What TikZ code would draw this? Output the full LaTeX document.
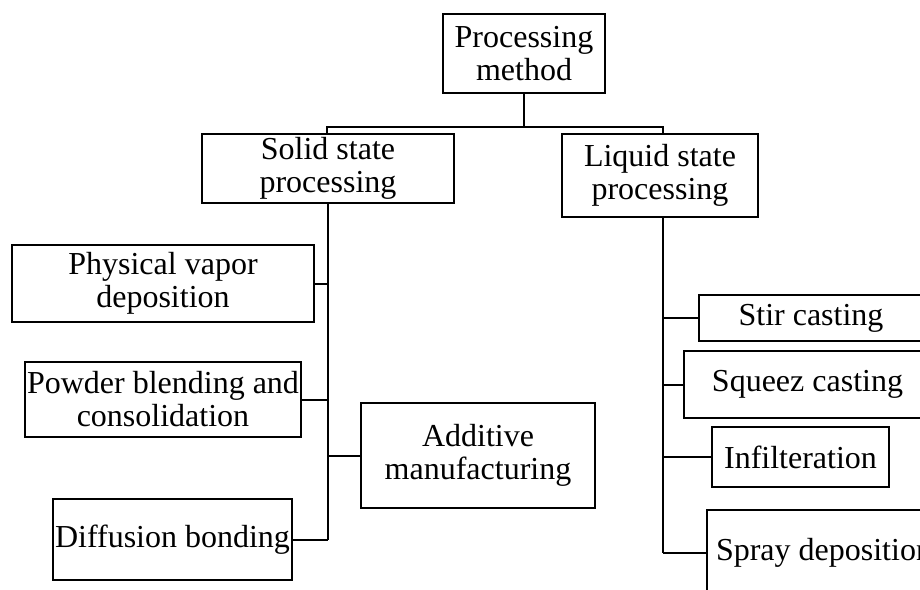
\documentclass[tikz,border=0pt]{standalone}
\usepackage{fontspec}
\setmainfont{Liberation Serif}
\usetikzlibrary{positioning}

\begin{document}
\begin{tikzpicture}[x=1pt,y=-1pt,
    box/.style={draw,line width=2pt,inner sep=0pt,align=center,
      font=\fontsize{32}{33}\selectfont},
    link/.style={line width=2pt},
    trunk/.style={line width=2.8pt}]
  \useasboundingbox (0,0) rectangle (920,589);
  \node[box,minimum width=162pt,minimum height=79pt] (method) at (524,53.5) {Processing\\method};
  \node[box,minimum width=252pt,minimum height=69pt] (solid) at (328,168.5) {Solid state\\processing};
  \node[box,minimum width=196pt,minimum height=83pt] (liquid) at (660,175.5) {Liquid state\\processing};
  \node[box,minimum width=302pt,minimum height=77pt] (pvd) at (163,283.5) {Physical vapor\\deposition};
  \node[box,minimum width=276pt,minimum height=75pt] (powder) at (163,399.5) {Powder blending and\\consolidation};
  \node[box,minimum width=234pt,minimum height=105pt] (additive) at (478,455.5) {Additive\\manufacturing};
  \node[box,minimum width=239pt,minimum height=81pt] (diffusion) at (172.5,539.5) {Diffusion bonding};
  \node[box,minimum width=224pt,minimum height=46pt] (stir) at (811,318) {Stir casting};
  \node[box,minimum width=247pt,minimum height=67pt] (squeez) at (807.5,384.5) {Squeez casting};
  \node[box,minimum width=177pt,minimum height=60pt] (infil) at (800.5,457) {Infilteration};
  \node[box,minimum width=234pt,minimum height=86pt] (spray) at (824,553) {Spray deposition};

  \coordinate (split) at (524,127);
  \draw[link] (method.south) -- (split);
  \draw[link] ([xshift=-1pt]solid.north) |- (split) -| ([xshift=3pt]liquid.north);

  \foreach \n in {pvd,powder,diffusion}
    \draw[link] (\n.east) -- (\n.east -| solid.south);
  \draw[link] (additive.west) -- (additive.west -| solid.south);
  \draw[trunk] (solid.south) -- (solid.south |- diffusion.east);

  \coordinate (lq) at ([xshift=3pt]liquid.south);
  \foreach \n in {stir,squeez,infil,spray}
    \draw[link] (\n.west) -- (\n.west -| lq);
  \draw[trunk] (lq) -- (lq |- spray.west);
\end{tikzpicture}
\end{document}
